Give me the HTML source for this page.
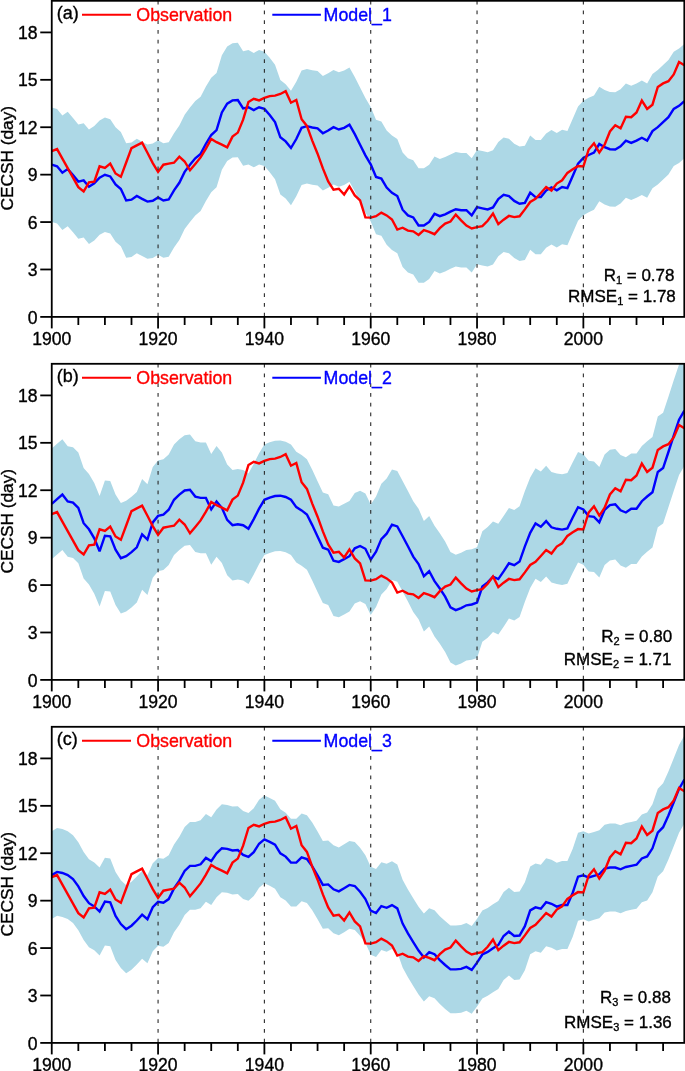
<!DOCTYPE html>
<html><head><meta charset="utf-8"><style>
html,body{margin:0;padding:0;background:#fff;}
body{width:685px;height:1071px;overflow:hidden;}
svg{display:block;will-change:transform;}
text{font-family:"Liberation Sans", sans-serif;stroke-width:0.35px;paint-order:stroke;}
</style></head><body>
<svg width="685" height="1071" viewBox="0 0 685 1071">
<rect width="685" height="1071" fill="#fff"/>
<clipPath id="clip0"><rect x="51.75" y="0.8" width="632.55" height="316.1"/></clipPath>
<g clip-path="url(#clip0)">
<polygon points="51.75,107.49 57.07,109.09 62.38,115.49 67.7,111.79 73.01,117.89 78.33,124.39 83.65,123.19 88.96,129.49 94.28,125.99 99.59,120.39 104.91,117.59 110.23,119.19 115.54,127.29 120.86,131.89 126.18,143.29 131.49,142.49 136.81,138.79 142.12,141.69 147.44,144.39 152.76,143.59 158.07,140.29 163.39,143.29 168.7,142.29 174.02,133.19 179.34,125.59 184.65,114.69 189.97,107.49 195.28,101.09 200.6,96.69 205.92,86.59 211.23,77.79 216.55,72.89 221.87,55.29 227.18,46.49 232.5,43.19 237.81,42.79 243.13,51.29 248.45,50.09 253.76,52.89 259.08,50.09 264.39,51.69 269.71,57.79 275.03,64.79 280.34,80.09 285.66,84.19 290.97,90.79 296.29,81.79 301.61,70.59 306.92,68.99 312.24,70.29 317.56,71.09 322.87,75.99 328.19,73.29 333.5,69.99 338.82,72.29 344.14,70.59 349.45,67.39 354.77,76.89 360.08,87.49 365.4,98.09 370.72,107.09 376.03,119.79 381.35,121.39 386.66,130.39 391.98,135.59 397.3,138.89 402.61,152.49 407.93,158.19 413.24,160.19 418.56,168.29 423.88,168.29 429.19,164.69 434.51,156.59 439.83,158.99 445.14,157.09 450.46,154.39 455.77,151.99 461.09,152.99 466.41,152.99 471.72,158.19 477.04,149.89 482.35,151.09 487.67,152.19 492.99,150.19 498.3,141.89 503.62,137.59 508.93,138.79 514.25,143.69 519.57,146.49 524.88,145.69 530.2,135.39 535.52,139.89 540.83,139.89 546.15,133.39 551.46,130.09 556.78,133.09 562.1,129.79 567.41,130.89 572.73,118.69 578.04,106.39 583.36,100.79 588.68,97.79 593.99,95.39 599.31,86.79 604.62,89.99 609.94,91.99 615.26,92.29 620.57,89.19 625.89,83.39 631.2,85.69 636.52,83.39 641.84,80.59 647.15,83.39 652.47,73.89 657.79,69.99 663.1,64.99 668.42,59.99 673.73,51.69 679.05,48.59 684.37,43.89 684.37,158.31 679.05,163.01 673.73,166.11 668.42,174.41 663.1,179.41 657.79,184.41 652.47,188.31 647.15,197.81 641.84,195.01 636.52,197.81 631.2,200.11 625.89,197.81 620.57,203.61 615.26,206.71 609.94,206.41 604.62,204.41 599.31,201.21 593.99,209.81 588.68,212.21 583.36,215.21 578.04,220.81 572.73,233.11 567.41,245.31 562.1,244.21 556.78,247.51 551.46,244.51 546.15,247.81 540.83,254.31 535.52,254.31 530.2,249.81 524.88,260.11 519.57,260.91 514.25,258.11 508.93,253.21 503.62,252.01 498.3,256.31 492.99,264.61 487.67,266.61 482.35,265.51 477.04,264.31 471.72,272.61 466.41,267.41 461.09,267.41 455.77,266.41 450.46,268.81 445.14,271.51 439.83,273.41 434.51,271.01 429.19,279.11 423.88,282.71 418.56,282.71 413.24,274.61 407.93,272.61 402.61,266.91 397.3,253.31 391.98,250.01 386.66,244.81 381.35,235.81 376.03,234.21 370.72,221.51 365.4,212.51 360.08,201.91 354.77,191.31 349.45,181.81 344.14,185.01 338.82,186.71 333.5,184.41 328.19,187.71 322.87,190.41 317.56,185.51 312.24,184.71 306.92,183.41 301.61,185.01 296.29,196.21 290.97,205.21 285.66,198.61 280.34,194.51 275.03,179.21 269.71,172.21 264.39,166.11 259.08,164.51 253.76,167.31 248.45,164.51 243.13,165.71 237.81,157.21 232.5,157.61 227.18,160.91 221.87,169.71 216.55,187.31 211.23,192.21 205.92,201.01 200.6,211.11 195.28,215.51 189.97,221.91 184.65,229.11 179.34,240.01 174.02,247.61 168.7,256.71 163.39,257.71 158.07,254.71 152.76,258.01 147.44,258.81 142.12,256.11 136.81,253.21 131.49,256.91 126.18,257.71 120.86,246.31 115.54,241.71 110.23,233.61 104.91,232.01 99.59,234.81 94.28,240.41 88.96,243.91 83.65,237.61 78.33,238.81 73.01,232.31 67.7,226.21 62.38,229.91 57.07,223.51 51.75,221.91" fill="#ADD8E6"/>
<polyline points="51.75,164.7 57.07,166.3 62.38,172.7 67.7,169 73.01,175.1 78.33,181.6 83.65,180.4 88.96,186.7 94.28,183.2 99.59,177.6 104.91,174.8 110.23,176.4 115.54,184.5 120.86,189.1 126.18,200.5 131.49,199.7 136.81,196 142.12,198.9 147.44,201.6 152.76,200.8 158.07,197.5 163.39,200.5 168.7,199.5 174.02,190.4 179.34,182.8 184.65,171.9 189.97,164.7 195.28,158.3 200.6,153.9 205.92,143.8 211.23,135 216.55,130.1 221.87,112.5 227.18,103.7 232.5,100.4 237.81,100 243.13,108.5 248.45,107.3 253.76,110.1 259.08,107.3 264.39,108.9 269.71,115 275.03,122 280.34,137.3 285.66,141.4 290.97,148 296.29,139 301.61,127.8 306.92,126.2 312.24,127.5 317.56,128.3 322.87,133.2 328.19,130.5 333.5,127.2 338.82,129.5 344.14,127.8 349.45,124.6 354.77,134.1 360.08,144.7 365.4,155.3 370.72,164.3 376.03,177 381.35,178.6 386.66,187.6 391.98,192.8 397.3,196.1 402.61,209.7 407.93,215.4 413.24,217.4 418.56,225.5 423.88,225.5 429.19,221.9 434.51,213.8 439.83,216.2 445.14,214.3 450.46,211.6 455.77,209.2 461.09,210.2 466.41,210.2 471.72,215.4 477.04,207.1 482.35,208.3 487.67,209.4 492.99,207.4 498.3,199.1 503.62,194.8 508.93,196 514.25,200.9 519.57,203.7 524.88,202.9 530.2,192.6 535.52,197.1 540.83,197.1 546.15,190.6 551.46,187.3 556.78,190.3 562.1,187 567.41,188.1 572.73,175.9 578.04,163.6 583.36,158 588.68,155 593.99,152.6 599.31,144 604.62,147.2 609.94,149.2 615.26,149.5 620.57,146.4 625.89,140.6 631.2,142.9 636.52,140.6 641.84,137.8 647.15,140.6 652.47,131.1 657.79,127.2 663.1,122.2 668.42,117.2 673.73,108.9 679.05,105.8 684.37,101.1" fill="none" stroke="#00f" stroke-width="2.4" stroke-linejoin="miter" stroke-miterlimit="2.5"/>
<polyline points="51.75,151.1 57.07,149.1 62.38,158.6 67.7,168.2 73.01,177.7 78.33,187.2 83.65,191.5 88.96,182.4 94.28,181.6 99.59,166.3 104.91,167.9 110.23,163.6 115.54,173.5 120.86,176.8 126.18,162.5 131.49,148.2 136.81,145.4 142.12,142.7 147.44,152.7 152.76,163.1 158.07,171.9 163.39,164.7 168.7,163.6 174.02,162.7 179.34,156.6 184.65,161.5 189.97,170.3 195.28,163.9 200.6,157.4 205.92,148.6 211.23,139 216.55,142.2 221.87,144.6 227.18,147.3 232.5,136.6 237.81,132.6 243.13,119.7 248.45,102 253.76,98.8 259.08,100.4 264.39,97.9 269.71,96.1 275.03,95.6 280.34,94 285.66,91.2 290.97,102.7 296.29,100 301.61,119.3 306.92,125.9 312.24,140.6 317.56,153.7 322.87,168.4 328.19,181.5 333.5,189.6 338.82,188.8 344.14,194.5 349.45,186.4 354.77,195.4 360.08,200.3 365.4,217.4 370.72,217.6 376.03,216.2 381.35,212.6 386.66,215.4 391.98,219.5 397.3,229.6 402.61,227.7 407.93,230.6 413.24,231.3 418.56,235 423.88,230.1 429.19,231.8 434.51,234.2 439.83,228.2 445.14,223.6 450.46,221.5 455.77,214.6 461.09,220.3 466.41,225.5 471.72,228.5 477.04,227.1 482.35,226.2 487.67,220.8 492.99,213.5 498.3,224.1 503.62,219.7 508.93,215.9 514.25,217.1 519.57,216.3 524.88,209.4 530.2,202 535.52,198.8 540.83,193 546.15,187 551.46,190.6 556.78,183.6 562.1,180.3 567.41,172.9 572.73,169.3 578.04,166.1 583.36,166.5 588.68,149.5 593.99,143.3 599.31,152.6 604.62,144.8 609.94,131.5 615.26,125.3 620.57,128.4 625.89,116.7 631.2,117.2 636.52,112.5 641.84,100.6 647.15,108.9 652.47,104.7 657.79,87 663.1,83.4 668.42,81.2 673.73,74.5 679.05,62 684.37,65.2" fill="none" stroke="#f00" stroke-width="2.4" stroke-linejoin="miter" stroke-miterlimit="2.5"/>
</g>
<line x1="158.07" y1="0.8" x2="158.07" y2="316.9" stroke="#2a2a2a" stroke-width="1.1" stroke-dasharray="3.6 6.15"/>
<line x1="264.39" y1="0.8" x2="264.39" y2="316.9" stroke="#2a2a2a" stroke-width="1.1" stroke-dasharray="3.6 6.15"/>
<line x1="370.72" y1="0.8" x2="370.72" y2="316.9" stroke="#2a2a2a" stroke-width="1.1" stroke-dasharray="3.6 6.15"/>
<line x1="477.04" y1="0.8" x2="477.04" y2="316.9" stroke="#2a2a2a" stroke-width="1.1" stroke-dasharray="3.6 6.15"/>
<line x1="583.36" y1="0.8" x2="583.36" y2="316.9" stroke="#2a2a2a" stroke-width="1.1" stroke-dasharray="3.6 6.15"/>
<rect x="51.75" y="0.8" width="632.55" height="316.1" fill="none" stroke="#000" stroke-width="1.8"/>
<line x1="40.25" y1="316.9" x2="51.75" y2="316.9" stroke="#000" stroke-width="1.8"/>
<text x="37.6" y="323.5" font-size="17.6" text-anchor="end" stroke="#000">0</text>
<line x1="40.25" y1="269.48" x2="51.75" y2="269.48" stroke="#000" stroke-width="1.8"/>
<text x="37.6" y="276.08" font-size="17.6" text-anchor="end" stroke="#000">3</text>
<line x1="40.25" y1="222.07" x2="51.75" y2="222.07" stroke="#000" stroke-width="1.8"/>
<text x="37.6" y="228.67" font-size="17.6" text-anchor="end" stroke="#000">6</text>
<line x1="40.25" y1="174.65" x2="51.75" y2="174.65" stroke="#000" stroke-width="1.8"/>
<text x="37.6" y="181.25" font-size="17.6" text-anchor="end" stroke="#000">9</text>
<line x1="40.25" y1="127.24" x2="51.75" y2="127.24" stroke="#000" stroke-width="1.8"/>
<text x="37.6" y="133.84" font-size="17.6" text-anchor="end" stroke="#000">12</text>
<line x1="40.25" y1="79.82" x2="51.75" y2="79.82" stroke="#000" stroke-width="1.8"/>
<text x="37.6" y="86.42" font-size="17.6" text-anchor="end" stroke="#000">15</text>
<line x1="40.25" y1="32.41" x2="51.75" y2="32.41" stroke="#000" stroke-width="1.8"/>
<text x="37.6" y="39.01" font-size="17.6" text-anchor="end" stroke="#000">18</text>
<line x1="51.75" y1="316.9" x2="51.75" y2="328.4" stroke="#000" stroke-width="1.8"/>
<text x="51.75" y="345.1" font-size="17.6" text-anchor="middle" stroke="#000">1900</text>
<line x1="78.33" y1="316.9" x2="78.33" y2="325" stroke="#000" stroke-width="1.8"/>
<line x1="104.91" y1="316.9" x2="104.91" y2="325" stroke="#000" stroke-width="1.8"/>
<line x1="131.49" y1="316.9" x2="131.49" y2="325" stroke="#000" stroke-width="1.8"/>
<line x1="158.07" y1="316.9" x2="158.07" y2="328.4" stroke="#000" stroke-width="1.8"/>
<text x="158.07" y="345.1" font-size="17.6" text-anchor="middle" stroke="#000">1920</text>
<line x1="184.65" y1="316.9" x2="184.65" y2="325" stroke="#000" stroke-width="1.8"/>
<line x1="211.23" y1="316.9" x2="211.23" y2="325" stroke="#000" stroke-width="1.8"/>
<line x1="237.81" y1="316.9" x2="237.81" y2="325" stroke="#000" stroke-width="1.8"/>
<line x1="264.39" y1="316.9" x2="264.39" y2="328.4" stroke="#000" stroke-width="1.8"/>
<text x="264.39" y="345.1" font-size="17.6" text-anchor="middle" stroke="#000">1940</text>
<line x1="290.97" y1="316.9" x2="290.97" y2="325" stroke="#000" stroke-width="1.8"/>
<line x1="317.56" y1="316.9" x2="317.56" y2="325" stroke="#000" stroke-width="1.8"/>
<line x1="344.14" y1="316.9" x2="344.14" y2="325" stroke="#000" stroke-width="1.8"/>
<line x1="370.72" y1="316.9" x2="370.72" y2="328.4" stroke="#000" stroke-width="1.8"/>
<text x="370.72" y="345.1" font-size="17.6" text-anchor="middle" stroke="#000">1960</text>
<line x1="397.3" y1="316.9" x2="397.3" y2="325" stroke="#000" stroke-width="1.8"/>
<line x1="423.88" y1="316.9" x2="423.88" y2="325" stroke="#000" stroke-width="1.8"/>
<line x1="450.46" y1="316.9" x2="450.46" y2="325" stroke="#000" stroke-width="1.8"/>
<line x1="477.04" y1="316.9" x2="477.04" y2="328.4" stroke="#000" stroke-width="1.8"/>
<text x="477.04" y="345.1" font-size="17.6" text-anchor="middle" stroke="#000">1980</text>
<line x1="503.62" y1="316.9" x2="503.62" y2="325" stroke="#000" stroke-width="1.8"/>
<line x1="530.2" y1="316.9" x2="530.2" y2="325" stroke="#000" stroke-width="1.8"/>
<line x1="556.78" y1="316.9" x2="556.78" y2="325" stroke="#000" stroke-width="1.8"/>
<line x1="583.36" y1="316.9" x2="583.36" y2="328.4" stroke="#000" stroke-width="1.8"/>
<text x="583.36" y="345.1" font-size="17.6" text-anchor="middle" stroke="#000">2000</text>
<line x1="609.94" y1="316.9" x2="609.94" y2="325" stroke="#000" stroke-width="1.8"/>
<line x1="636.52" y1="316.9" x2="636.52" y2="325" stroke="#000" stroke-width="1.8"/>
<line x1="663.1" y1="316.9" x2="663.1" y2="325" stroke="#000" stroke-width="1.8"/>
<text x="56.7" y="19.1" font-size="18" stroke="#000">(a)</text>
<line x1="82" y1="14.8" x2="131" y2="14.8" stroke="#f00" stroke-width="2.0"/>
<text x="136.3" y="21" font-size="17.8" fill="#f00" stroke="#f00">Observation</text>
<line x1="272.3" y1="14.8" x2="320.9" y2="14.8" stroke="#00f" stroke-width="2.0"/>
<text x="323.6" y="21" font-size="17.8" fill="#00f" stroke="#00f">Model_1</text>
<text x="674.5" y="281.1" font-size="17.0" text-anchor="end" stroke="#000">R<tspan font-size="11" dy="3">1</tspan><tspan dy="-3"> = 0.78</tspan></text>
<text x="675.8" y="302.3" font-size="17.0" text-anchor="end" stroke="#000">RMSE<tspan font-size="11" dy="3">1</tspan><tspan dy="-3"> = 1.78</tspan></text>
<text transform="translate(12.9,158.25) rotate(-90)" font-size="17.3" text-anchor="middle" stroke="#000">CECSH (day)</text>
<clipPath id="clip1"><rect x="51.75" y="363.8" width="632.55" height="316.1"/></clipPath>
<g clip-path="url(#clip1)">
<polygon points="51.75,448.58 57.07,443.78 62.38,439.28 67.7,446.18 73.01,447.28 78.33,452.58 83.65,467.88 88.96,473.98 94.28,483.08 99.59,495.98 104.91,480.38 110.23,480.98 115.54,494.38 120.86,502.88 126.18,500.78 131.49,496.78 136.81,491.98 142.12,479.08 147.44,484.28 152.76,467.08 158.07,460.58 163.39,459.28 168.7,454.38 174.02,444.48 179.34,439.28 184.65,435.18 189.97,434.48 195.28,441.28 200.6,442.58 205.92,442.58 211.23,454.08 216.55,446.08 221.87,452.48 227.18,464.58 232.5,469.88 237.81,468.88 243.13,469.88 248.45,473.38 253.76,463.78 259.08,453.28 264.39,444.48 269.71,442.28 275.03,440.68 280.34,440.38 285.66,441.68 290.97,444.48 296.29,451.78 301.61,455.08 306.92,459.18 312.24,469.78 317.56,481.28 322.87,492.38 328.19,494.28 333.5,505.48 338.82,506.58 344.14,503.78 349.45,500.88 354.77,492.98 360.08,490.68 365.4,493.48 370.72,504.38 376.03,496.38 381.35,483.78 386.66,478.38 391.98,469.38 397.3,471.08 402.61,480.88 407.93,490.98 413.24,501.28 418.56,508.68 423.88,520.88 429.19,515.98 434.51,525.78 439.83,533.18 445.14,541.38 450.46,551.98 455.77,554.78 461.09,552.78 466.41,549.98 471.72,549.18 477.04,547.28 482.35,531.18 487.67,527.08 492.99,521.38 498.3,523.78 503.62,516.08 508.93,507.98 514.25,509.88 519.57,506.28 524.88,491.08 530.2,477.48 535.52,468.18 540.83,471.48 546.15,465.78 551.46,471.98 556.78,473.48 562.1,474.28 567.41,473.08 572.73,462.18 578.04,451.88 583.36,454.18 588.68,460.78 593.99,461.48 599.31,466.98 604.62,454.48 609.94,449.78 615.26,448.98 620.57,454.98 625.89,457.18 631.2,453.38 636.52,453.38 641.84,445.88 647.15,441.18 652.47,436.88 657.79,416.58 663.1,412.78 668.42,396.68 673.73,380.28 679.05,364.38 684.37,355.28 684.37,465.92 679.05,475.02 673.73,490.92 668.42,507.32 663.1,523.42 657.79,527.22 652.47,547.52 647.15,551.82 641.84,556.52 636.52,564.02 631.2,564.02 625.89,567.82 620.57,565.62 615.26,559.62 609.94,560.42 604.62,565.12 599.31,577.62 593.99,572.12 588.68,571.42 583.36,564.82 578.04,562.52 572.73,572.82 567.41,583.72 562.1,584.92 556.78,584.12 551.46,582.62 546.15,576.42 540.83,582.12 535.52,578.82 530.2,588.12 524.88,601.72 519.57,616.92 514.25,620.52 508.93,618.62 503.62,626.72 498.3,634.42 492.99,632.02 487.67,637.72 482.35,641.82 477.04,657.92 471.72,659.82 466.41,660.62 461.09,663.42 455.77,665.42 450.46,662.62 445.14,652.02 439.83,643.82 434.51,636.42 429.19,626.62 423.88,631.52 418.56,619.32 413.24,611.92 407.93,601.62 402.61,591.52 397.3,581.72 391.98,580.02 386.66,589.02 381.35,594.42 376.03,607.02 370.72,615.02 365.4,604.12 360.08,601.32 354.77,603.62 349.45,611.52 344.14,614.42 338.82,617.22 333.5,616.12 328.19,604.92 322.87,603.02 317.56,591.92 312.24,580.42 306.92,569.82 301.61,565.72 296.29,562.42 290.97,555.12 285.66,552.32 280.34,551.02 275.03,551.32 269.71,552.92 264.39,555.12 259.08,563.92 253.76,574.42 248.45,584.02 243.13,580.52 237.81,579.52 232.5,580.52 227.18,575.22 221.87,563.12 216.55,556.72 211.23,564.72 205.92,553.22 200.6,553.22 195.28,551.92 189.97,545.12 184.65,545.82 179.34,549.92 174.02,555.12 168.7,565.02 163.39,569.92 158.07,571.22 152.76,577.72 147.44,594.92 142.12,589.72 136.81,602.62 131.49,607.42 126.18,611.42 120.86,613.52 115.54,605.02 110.23,591.62 104.91,591.02 99.59,606.62 94.28,593.72 88.96,584.62 83.65,578.52 78.33,563.22 73.01,557.92 67.7,556.82 62.38,549.92 57.07,554.42 51.75,559.22" fill="#ADD8E6"/>
<polyline points="51.75,503.9 57.07,499.1 62.38,494.6 67.7,501.5 73.01,502.6 78.33,507.9 83.65,523.2 88.96,529.3 94.28,538.4 99.59,551.3 104.91,535.7 110.23,536.3 115.54,549.7 120.86,558.2 126.18,556.1 131.49,552.1 136.81,547.3 142.12,534.4 147.44,539.6 152.76,522.4 158.07,515.9 163.39,514.6 168.7,509.7 174.02,499.8 179.34,494.6 184.65,490.5 189.97,489.8 195.28,496.6 200.6,497.9 205.92,497.9 211.23,509.4 216.55,501.4 221.87,507.8 227.18,519.9 232.5,525.2 237.81,524.2 243.13,525.2 248.45,528.7 253.76,519.1 259.08,508.6 264.39,499.8 269.71,497.6 275.03,496 280.34,495.7 285.66,497 290.97,499.8 296.29,507.1 301.61,510.4 306.92,514.5 312.24,525.1 317.56,536.6 322.87,547.7 328.19,549.6 333.5,560.8 338.82,561.9 344.14,559.1 349.45,556.2 354.77,548.3 360.08,546 365.4,548.8 370.72,559.7 376.03,551.7 381.35,539.1 386.66,533.7 391.98,524.7 397.3,526.4 402.61,536.2 407.93,546.3 413.24,556.6 418.56,564 423.88,576.2 429.19,571.3 434.51,581.1 439.83,588.5 445.14,596.7 450.46,607.3 455.77,610.1 461.09,608.1 466.41,605.3 471.72,604.5 477.04,602.6 482.35,586.5 487.67,582.4 492.99,576.7 498.3,579.1 503.62,571.4 508.93,563.3 514.25,565.2 519.57,561.6 524.88,546.4 530.2,532.8 535.52,523.5 540.83,526.8 546.15,521.1 551.46,527.3 556.78,528.8 562.1,529.6 567.41,528.4 572.73,517.5 578.04,507.2 583.36,509.5 588.68,516.1 593.99,516.8 599.31,522.3 604.62,509.8 609.94,505.1 615.26,504.3 620.57,510.3 625.89,512.5 631.2,508.7 636.52,508.7 641.84,501.2 647.15,496.5 652.47,492.2 657.79,471.9 663.1,468.1 668.42,452 673.73,435.6 679.05,419.7 684.37,410.6" fill="none" stroke="#00f" stroke-width="2.4" stroke-linejoin="miter" stroke-miterlimit="2.5"/>
<polyline points="51.75,514.1 57.07,512.1 62.38,521.6 67.7,531.2 73.01,540.7 78.33,550.2 83.65,554.5 88.96,545.4 94.28,544.6 99.59,529.3 104.91,530.9 110.23,526.6 115.54,536.5 120.86,539.8 126.18,525.5 131.49,511.2 136.81,508.4 142.12,505.7 147.44,515.7 152.76,526.1 158.07,534.9 163.39,527.7 168.7,526.6 174.02,525.7 179.34,519.6 184.65,524.5 189.97,533.3 195.28,526.9 200.6,520.4 205.92,511.6 211.23,502 216.55,505.2 221.87,507.6 227.18,510.3 232.5,499.6 237.81,495.6 243.13,482.7 248.45,465 253.76,461.8 259.08,463.4 264.39,460.9 269.71,459.1 275.03,458.6 280.34,457 285.66,454.2 290.97,465.7 296.29,463 301.61,482.3 306.92,488.9 312.24,503.6 317.56,516.7 322.87,531.4 328.19,544.5 333.5,552.6 338.82,551.8 344.14,557.5 349.45,549.4 354.77,558.4 360.08,563.3 365.4,580.4 370.72,580.6 376.03,579.2 381.35,575.6 386.66,578.4 391.98,582.5 397.3,592.6 402.61,590.7 407.93,593.6 413.24,594.3 418.56,598 423.88,593.1 429.19,594.8 434.51,597.2 439.83,591.2 445.14,586.6 450.46,584.5 455.77,577.6 461.09,583.3 466.41,588.5 471.72,591.5 477.04,590.1 482.35,589.2 487.67,583.8 492.99,576.5 498.3,587.1 503.62,582.7 508.93,578.9 514.25,580.1 519.57,579.3 524.88,572.4 530.2,565 535.52,561.8 540.83,556 546.15,550 551.46,553.6 556.78,546.6 562.1,543.3 567.41,535.9 572.73,532.3 578.04,529.1 583.36,529.5 588.68,512.5 593.99,506.3 599.31,515.6 604.62,507.8 609.94,494.5 615.26,488.3 620.57,491.4 625.89,479.7 631.2,480.2 636.52,475.5 641.84,463.6 647.15,471.9 652.47,467.7 657.79,450 663.1,446.4 668.42,444.2 673.73,437.5 679.05,425 684.37,428.2" fill="none" stroke="#f00" stroke-width="2.4" stroke-linejoin="miter" stroke-miterlimit="2.5"/>
</g>
<line x1="158.07" y1="363.8" x2="158.07" y2="679.9" stroke="#2a2a2a" stroke-width="1.1" stroke-dasharray="3.6 6.15"/>
<line x1="264.39" y1="363.8" x2="264.39" y2="679.9" stroke="#2a2a2a" stroke-width="1.1" stroke-dasharray="3.6 6.15"/>
<line x1="370.72" y1="363.8" x2="370.72" y2="679.9" stroke="#2a2a2a" stroke-width="1.1" stroke-dasharray="3.6 6.15"/>
<line x1="477.04" y1="363.8" x2="477.04" y2="679.9" stroke="#2a2a2a" stroke-width="1.1" stroke-dasharray="3.6 6.15"/>
<line x1="583.36" y1="363.8" x2="583.36" y2="679.9" stroke="#2a2a2a" stroke-width="1.1" stroke-dasharray="3.6 6.15"/>
<rect x="51.75" y="363.8" width="632.55" height="316.1" fill="none" stroke="#000" stroke-width="1.8"/>
<line x1="40.25" y1="679.9" x2="51.75" y2="679.9" stroke="#000" stroke-width="1.8"/>
<text x="37.6" y="686.5" font-size="17.6" text-anchor="end" stroke="#000">0</text>
<line x1="40.25" y1="632.49" x2="51.75" y2="632.49" stroke="#000" stroke-width="1.8"/>
<text x="37.6" y="639.09" font-size="17.6" text-anchor="end" stroke="#000">3</text>
<line x1="40.25" y1="585.07" x2="51.75" y2="585.07" stroke="#000" stroke-width="1.8"/>
<text x="37.6" y="591.67" font-size="17.6" text-anchor="end" stroke="#000">6</text>
<line x1="40.25" y1="537.65" x2="51.75" y2="537.65" stroke="#000" stroke-width="1.8"/>
<text x="37.6" y="544.25" font-size="17.6" text-anchor="end" stroke="#000">9</text>
<line x1="40.25" y1="490.24" x2="51.75" y2="490.24" stroke="#000" stroke-width="1.8"/>
<text x="37.6" y="496.84" font-size="17.6" text-anchor="end" stroke="#000">12</text>
<line x1="40.25" y1="442.82" x2="51.75" y2="442.82" stroke="#000" stroke-width="1.8"/>
<text x="37.6" y="449.43" font-size="17.6" text-anchor="end" stroke="#000">15</text>
<line x1="40.25" y1="395.41" x2="51.75" y2="395.41" stroke="#000" stroke-width="1.8"/>
<text x="37.6" y="402.01" font-size="17.6" text-anchor="end" stroke="#000">18</text>
<line x1="51.75" y1="679.9" x2="51.75" y2="691.4" stroke="#000" stroke-width="1.8"/>
<text x="51.75" y="708.1" font-size="17.6" text-anchor="middle" stroke="#000">1900</text>
<line x1="78.33" y1="679.9" x2="78.33" y2="688" stroke="#000" stroke-width="1.8"/>
<line x1="104.91" y1="679.9" x2="104.91" y2="688" stroke="#000" stroke-width="1.8"/>
<line x1="131.49" y1="679.9" x2="131.49" y2="688" stroke="#000" stroke-width="1.8"/>
<line x1="158.07" y1="679.9" x2="158.07" y2="691.4" stroke="#000" stroke-width="1.8"/>
<text x="158.07" y="708.1" font-size="17.6" text-anchor="middle" stroke="#000">1920</text>
<line x1="184.65" y1="679.9" x2="184.65" y2="688" stroke="#000" stroke-width="1.8"/>
<line x1="211.23" y1="679.9" x2="211.23" y2="688" stroke="#000" stroke-width="1.8"/>
<line x1="237.81" y1="679.9" x2="237.81" y2="688" stroke="#000" stroke-width="1.8"/>
<line x1="264.39" y1="679.9" x2="264.39" y2="691.4" stroke="#000" stroke-width="1.8"/>
<text x="264.39" y="708.1" font-size="17.6" text-anchor="middle" stroke="#000">1940</text>
<line x1="290.97" y1="679.9" x2="290.97" y2="688" stroke="#000" stroke-width="1.8"/>
<line x1="317.56" y1="679.9" x2="317.56" y2="688" stroke="#000" stroke-width="1.8"/>
<line x1="344.14" y1="679.9" x2="344.14" y2="688" stroke="#000" stroke-width="1.8"/>
<line x1="370.72" y1="679.9" x2="370.72" y2="691.4" stroke="#000" stroke-width="1.8"/>
<text x="370.72" y="708.1" font-size="17.6" text-anchor="middle" stroke="#000">1960</text>
<line x1="397.3" y1="679.9" x2="397.3" y2="688" stroke="#000" stroke-width="1.8"/>
<line x1="423.88" y1="679.9" x2="423.88" y2="688" stroke="#000" stroke-width="1.8"/>
<line x1="450.46" y1="679.9" x2="450.46" y2="688" stroke="#000" stroke-width="1.8"/>
<line x1="477.04" y1="679.9" x2="477.04" y2="691.4" stroke="#000" stroke-width="1.8"/>
<text x="477.04" y="708.1" font-size="17.6" text-anchor="middle" stroke="#000">1980</text>
<line x1="503.62" y1="679.9" x2="503.62" y2="688" stroke="#000" stroke-width="1.8"/>
<line x1="530.2" y1="679.9" x2="530.2" y2="688" stroke="#000" stroke-width="1.8"/>
<line x1="556.78" y1="679.9" x2="556.78" y2="688" stroke="#000" stroke-width="1.8"/>
<line x1="583.36" y1="679.9" x2="583.36" y2="691.4" stroke="#000" stroke-width="1.8"/>
<text x="583.36" y="708.1" font-size="17.6" text-anchor="middle" stroke="#000">2000</text>
<line x1="609.94" y1="679.9" x2="609.94" y2="688" stroke="#000" stroke-width="1.8"/>
<line x1="636.52" y1="679.9" x2="636.52" y2="688" stroke="#000" stroke-width="1.8"/>
<line x1="663.1" y1="679.9" x2="663.1" y2="688" stroke="#000" stroke-width="1.8"/>
<text x="56.7" y="382.1" font-size="18" stroke="#000">(b)</text>
<line x1="82" y1="377.8" x2="131" y2="377.8" stroke="#f00" stroke-width="2.0"/>
<text x="136.3" y="384" font-size="17.8" fill="#f00" stroke="#f00">Observation</text>
<line x1="272.3" y1="377.8" x2="320.9" y2="377.8" stroke="#00f" stroke-width="2.0"/>
<text x="323.6" y="384" font-size="17.8" fill="#00f" stroke="#00f">Model_2</text>
<text x="672.2" y="642.3" font-size="17.0" text-anchor="end" stroke="#000">R<tspan font-size="11" dy="3">2</tspan><tspan dy="-3"> = 0.80</tspan></text>
<text x="671.5" y="664.7" font-size="17.0" text-anchor="end" stroke="#000">RMSE<tspan font-size="11" dy="3">2</tspan><tspan dy="-3"> = 1.71</tspan></text>
<text transform="translate(12.9,521.25) rotate(-90)" font-size="17.3" text-anchor="middle" stroke="#000">CECSH (day)</text>
<clipPath id="clip2"><rect x="51.75" y="726.8" width="632.55" height="316.1"/></clipPath>
<g clip-path="url(#clip2)">
<polygon points="51.75,831.16 57.07,827.96 62.38,829.06 67.7,831.16 73.01,835.16 78.33,842.36 83.65,852.06 88.96,859.26 94.28,862.46 99.59,867.56 104.91,857.66 110.23,858.46 115.54,872.06 120.86,880.16 126.18,885.26 131.49,881.76 136.81,876.56 142.12,870.76 147.44,875.26 152.76,863.26 158.07,857.96 163.39,858.86 168.7,855.16 174.02,844.46 179.34,836.76 184.65,827.06 189.97,821.96 195.28,821.96 200.6,820.36 205.92,813.96 211.23,817.16 216.55,809.46 221.87,804.26 227.18,804.96 232.5,806.56 237.81,806.16 243.13,811.06 248.45,812.96 253.76,808.16 259.08,799.76 264.39,795.46 269.71,797.96 275.03,800.76 280.34,809.36 285.66,812.66 290.97,818.66 296.29,818.66 301.61,813.46 306.92,815.16 312.24,822.46 317.56,831.46 322.87,840.96 328.19,840.46 333.5,845.36 338.82,847.46 344.14,844.26 349.45,840.96 354.77,842.06 360.08,847.86 365.4,855.16 370.72,866.76 376.03,869.06 381.35,862.16 386.66,863.86 391.98,861.16 397.3,864.46 402.61,879.66 407.93,889.46 413.24,898.16 418.56,906.66 423.88,913.56 429.19,908.26 434.51,910.26 439.83,916.16 445.14,921.06 450.46,925.46 455.77,925.46 461.09,924.96 466.41,922.96 471.72,925.96 477.04,918.66 482.35,910.56 487.67,907.96 492.99,904.36 498.3,901.06 503.62,892.06 508.93,887.66 514.25,892.06 519.57,891.56 524.88,882.26 530.2,866.46 535.52,863.46 540.83,864.76 546.15,858.26 551.46,859.86 556.78,862.66 562.1,861.06 567.41,861.06 572.73,848.76 578.04,832.76 583.36,831.36 588.68,833.56 593.99,831.96 599.31,830.36 604.62,824.66 609.94,823.56 615.26,823.56 620.57,825.36 625.89,823.06 631.2,821.96 636.52,820.76 641.84,814.46 647.15,812.56 652.47,804.36 657.79,788.66 663.1,783.26 668.42,771.56 673.73,758.26 679.05,744.96 684.37,735.56 684.37,823.44 679.05,832.84 673.73,846.14 668.42,859.44 663.1,871.14 657.79,876.54 652.47,892.24 647.15,900.44 641.84,902.34 636.52,908.64 631.2,909.84 625.89,910.94 620.57,913.24 615.26,911.44 609.94,911.44 604.62,912.54 599.31,918.24 593.99,919.84 588.68,921.44 583.36,919.24 578.04,920.64 572.73,936.64 567.41,948.94 562.1,948.94 556.78,950.54 551.46,947.74 546.15,946.14 540.83,952.64 535.52,951.34 530.2,954.34 524.88,970.14 519.57,979.44 514.25,979.94 508.93,975.54 503.62,979.94 498.3,988.94 492.99,992.24 487.67,995.84 482.35,998.44 477.04,1006.54 471.72,1013.84 466.41,1010.84 461.09,1012.84 455.77,1013.34 450.46,1013.34 445.14,1008.94 439.83,1004.04 434.51,998.14 429.19,996.14 423.88,1001.44 418.56,994.54 413.24,986.04 407.93,977.34 402.61,967.54 397.3,952.34 391.98,949.04 386.66,951.74 381.35,950.04 376.03,956.94 370.72,954.64 365.4,943.04 360.08,935.74 354.77,929.94 349.45,928.84 344.14,932.14 338.82,935.34 333.5,933.24 328.19,928.34 322.87,928.84 317.56,919.34 312.24,910.34 306.92,903.04 301.61,901.34 296.29,906.54 290.97,906.54 285.66,900.54 280.34,897.24 275.03,888.64 269.71,885.84 264.39,883.34 259.08,887.64 253.76,896.04 248.45,900.84 243.13,898.94 237.81,894.04 232.5,894.44 227.18,892.84 221.87,892.14 216.55,897.34 211.23,905.04 205.92,901.84 200.6,908.24 195.28,909.84 189.97,909.84 184.65,914.94 179.34,924.64 174.02,932.34 168.7,943.04 163.39,946.74 158.07,945.84 152.76,951.14 147.44,963.14 142.12,958.64 136.81,964.44 131.49,969.64 126.18,973.14 120.86,968.04 115.54,959.94 110.23,946.34 104.91,945.54 99.59,955.44 94.28,950.34 88.96,947.14 83.65,939.94 78.33,930.24 73.01,923.04 67.7,919.04 62.38,916.94 57.07,915.84 51.75,919.04" fill="#ADD8E6"/>
<polyline points="51.75,875.1 57.07,871.9 62.38,873 67.7,875.1 73.01,879.1 78.33,886.3 83.65,896 88.96,903.2 94.28,906.4 99.59,911.5 104.91,901.6 110.23,902.4 115.54,916 120.86,924.1 126.18,929.2 131.49,925.7 136.81,920.5 142.12,914.7 147.44,919.2 152.76,907.2 158.07,901.9 163.39,902.8 168.7,899.1 174.02,888.4 179.34,880.7 184.65,871 189.97,865.9 195.28,865.9 200.6,864.3 205.92,857.9 211.23,861.1 216.55,853.4 221.87,848.2 227.18,848.9 232.5,850.5 237.81,850.1 243.13,855 248.45,856.9 253.76,852.1 259.08,843.7 264.39,839.4 269.71,841.9 275.03,844.7 280.34,853.3 285.66,856.6 290.97,862.6 296.29,862.6 301.61,857.4 306.92,859.1 312.24,866.4 317.56,875.4 322.87,884.9 328.19,884.4 333.5,889.3 338.82,891.4 344.14,888.2 349.45,884.9 354.77,886 360.08,891.8 365.4,899.1 370.72,910.7 376.03,913 381.35,906.1 386.66,907.8 391.98,905.1 397.3,908.4 402.61,923.6 407.93,933.4 413.24,942.1 418.56,950.6 423.88,957.5 429.19,952.2 434.51,954.2 439.83,960.1 445.14,965 450.46,969.4 455.77,969.4 461.09,968.9 466.41,966.9 471.72,969.9 477.04,962.6 482.35,954.5 487.67,951.9 492.99,948.3 498.3,945 503.62,936 508.93,931.6 514.25,936 519.57,935.5 524.88,926.2 530.2,910.4 535.52,907.4 540.83,908.7 546.15,902.2 551.46,903.8 556.78,906.6 562.1,905 567.41,905 572.73,892.7 578.04,876.7 583.36,875.3 588.68,877.5 593.99,875.9 599.31,874.3 604.62,868.6 609.94,867.5 615.26,867.5 620.57,869.3 625.89,867 631.2,865.9 636.52,864.7 641.84,858.4 647.15,856.5 652.47,848.3 657.79,832.6 663.1,827.2 668.42,815.5 673.73,802.2 679.05,788.9 684.37,779.5" fill="none" stroke="#00f" stroke-width="2.4" stroke-linejoin="miter" stroke-miterlimit="2.5"/>
<polyline points="51.75,877.1 57.07,875.1 62.38,884.6 67.7,894.2 73.01,903.7 78.33,913.2 83.65,917.5 88.96,908.4 94.28,907.6 99.59,892.3 104.91,893.9 110.23,889.6 115.54,899.5 120.86,902.8 126.18,888.5 131.49,874.2 136.81,871.4 142.12,868.7 147.44,878.7 152.76,889.1 158.07,897.9 163.39,890.7 168.7,889.6 174.02,888.7 179.34,882.6 184.65,887.5 189.97,896.3 195.28,889.9 200.6,883.4 205.92,874.6 211.23,865 216.55,868.2 221.87,870.6 227.18,873.3 232.5,862.6 237.81,858.6 243.13,845.7 248.45,828 253.76,824.8 259.08,826.4 264.39,823.9 269.71,822.1 275.03,821.6 280.34,820 285.66,817.2 290.97,828.7 296.29,826 301.61,845.3 306.92,851.9 312.24,866.6 317.56,879.7 322.87,894.4 328.19,907.5 333.5,915.6 338.82,914.8 344.14,920.5 349.45,912.4 354.77,921.4 360.08,926.3 365.4,943.4 370.72,943.6 376.03,942.2 381.35,938.6 386.66,941.4 391.98,945.5 397.3,955.6 402.61,953.7 407.93,956.6 413.24,957.3 418.56,961 423.88,956.1 429.19,957.8 434.51,960.2 439.83,954.2 445.14,949.6 450.46,947.5 455.77,940.6 461.09,946.3 466.41,951.5 471.72,954.5 477.04,953.1 482.35,952.2 487.67,946.8 492.99,939.5 498.3,950.1 503.62,945.7 508.93,941.9 514.25,943.1 519.57,942.3 524.88,935.4 530.2,928 535.52,924.8 540.83,919 546.15,913 551.46,916.6 556.78,909.6 562.1,906.3 567.41,898.9 572.73,895.3 578.04,892.1 583.36,892.5 588.68,875.5 593.99,869.3 599.31,878.6 604.62,870.8 609.94,857.5 615.26,851.3 620.57,854.4 625.89,842.7 631.2,843.2 636.52,838.5 641.84,826.6 647.15,834.9 652.47,830.7 657.79,813 663.1,809.4 668.42,807.2 673.73,800.5 679.05,788 684.37,791.2" fill="none" stroke="#f00" stroke-width="2.4" stroke-linejoin="miter" stroke-miterlimit="2.5"/>
</g>
<line x1="158.07" y1="726.8" x2="158.07" y2="1042.9" stroke="#2a2a2a" stroke-width="1.1" stroke-dasharray="3.6 6.15"/>
<line x1="264.39" y1="726.8" x2="264.39" y2="1042.9" stroke="#2a2a2a" stroke-width="1.1" stroke-dasharray="3.6 6.15"/>
<line x1="370.72" y1="726.8" x2="370.72" y2="1042.9" stroke="#2a2a2a" stroke-width="1.1" stroke-dasharray="3.6 6.15"/>
<line x1="477.04" y1="726.8" x2="477.04" y2="1042.9" stroke="#2a2a2a" stroke-width="1.1" stroke-dasharray="3.6 6.15"/>
<line x1="583.36" y1="726.8" x2="583.36" y2="1042.9" stroke="#2a2a2a" stroke-width="1.1" stroke-dasharray="3.6 6.15"/>
<rect x="51.75" y="726.8" width="632.55" height="316.1" fill="none" stroke="#000" stroke-width="1.8"/>
<line x1="40.25" y1="1042.9" x2="51.75" y2="1042.9" stroke="#000" stroke-width="1.8"/>
<text x="37.6" y="1049.5" font-size="17.6" text-anchor="end" stroke="#000">0</text>
<line x1="40.25" y1="995.49" x2="51.75" y2="995.49" stroke="#000" stroke-width="1.8"/>
<text x="37.6" y="1002.09" font-size="17.6" text-anchor="end" stroke="#000">3</text>
<line x1="40.25" y1="948.07" x2="51.75" y2="948.07" stroke="#000" stroke-width="1.8"/>
<text x="37.6" y="954.67" font-size="17.6" text-anchor="end" stroke="#000">6</text>
<line x1="40.25" y1="900.66" x2="51.75" y2="900.66" stroke="#000" stroke-width="1.8"/>
<text x="37.6" y="907.26" font-size="17.6" text-anchor="end" stroke="#000">9</text>
<line x1="40.25" y1="853.24" x2="51.75" y2="853.24" stroke="#000" stroke-width="1.8"/>
<text x="37.6" y="859.84" font-size="17.6" text-anchor="end" stroke="#000">12</text>
<line x1="40.25" y1="805.83" x2="51.75" y2="805.83" stroke="#000" stroke-width="1.8"/>
<text x="37.6" y="812.43" font-size="17.6" text-anchor="end" stroke="#000">15</text>
<line x1="40.25" y1="758.41" x2="51.75" y2="758.41" stroke="#000" stroke-width="1.8"/>
<text x="37.6" y="765.01" font-size="17.6" text-anchor="end" stroke="#000">18</text>
<line x1="51.75" y1="1042.9" x2="51.75" y2="1054.4" stroke="#000" stroke-width="1.8"/>
<text x="51.75" y="1071.1" font-size="17.6" text-anchor="middle" stroke="#000">1900</text>
<line x1="78.33" y1="1042.9" x2="78.33" y2="1051" stroke="#000" stroke-width="1.8"/>
<line x1="104.91" y1="1042.9" x2="104.91" y2="1051" stroke="#000" stroke-width="1.8"/>
<line x1="131.49" y1="1042.9" x2="131.49" y2="1051" stroke="#000" stroke-width="1.8"/>
<line x1="158.07" y1="1042.9" x2="158.07" y2="1054.4" stroke="#000" stroke-width="1.8"/>
<text x="158.07" y="1071.1" font-size="17.6" text-anchor="middle" stroke="#000">1920</text>
<line x1="184.65" y1="1042.9" x2="184.65" y2="1051" stroke="#000" stroke-width="1.8"/>
<line x1="211.23" y1="1042.9" x2="211.23" y2="1051" stroke="#000" stroke-width="1.8"/>
<line x1="237.81" y1="1042.9" x2="237.81" y2="1051" stroke="#000" stroke-width="1.8"/>
<line x1="264.39" y1="1042.9" x2="264.39" y2="1054.4" stroke="#000" stroke-width="1.8"/>
<text x="264.39" y="1071.1" font-size="17.6" text-anchor="middle" stroke="#000">1940</text>
<line x1="290.97" y1="1042.9" x2="290.97" y2="1051" stroke="#000" stroke-width="1.8"/>
<line x1="317.56" y1="1042.9" x2="317.56" y2="1051" stroke="#000" stroke-width="1.8"/>
<line x1="344.14" y1="1042.9" x2="344.14" y2="1051" stroke="#000" stroke-width="1.8"/>
<line x1="370.72" y1="1042.9" x2="370.72" y2="1054.4" stroke="#000" stroke-width="1.8"/>
<text x="370.72" y="1071.1" font-size="17.6" text-anchor="middle" stroke="#000">1960</text>
<line x1="397.3" y1="1042.9" x2="397.3" y2="1051" stroke="#000" stroke-width="1.8"/>
<line x1="423.88" y1="1042.9" x2="423.88" y2="1051" stroke="#000" stroke-width="1.8"/>
<line x1="450.46" y1="1042.9" x2="450.46" y2="1051" stroke="#000" stroke-width="1.8"/>
<line x1="477.04" y1="1042.9" x2="477.04" y2="1054.4" stroke="#000" stroke-width="1.8"/>
<text x="477.04" y="1071.1" font-size="17.6" text-anchor="middle" stroke="#000">1980</text>
<line x1="503.62" y1="1042.9" x2="503.62" y2="1051" stroke="#000" stroke-width="1.8"/>
<line x1="530.2" y1="1042.9" x2="530.2" y2="1051" stroke="#000" stroke-width="1.8"/>
<line x1="556.78" y1="1042.9" x2="556.78" y2="1051" stroke="#000" stroke-width="1.8"/>
<line x1="583.36" y1="1042.9" x2="583.36" y2="1054.4" stroke="#000" stroke-width="1.8"/>
<text x="583.36" y="1071.1" font-size="17.6" text-anchor="middle" stroke="#000">2000</text>
<line x1="609.94" y1="1042.9" x2="609.94" y2="1051" stroke="#000" stroke-width="1.8"/>
<line x1="636.52" y1="1042.9" x2="636.52" y2="1051" stroke="#000" stroke-width="1.8"/>
<line x1="663.1" y1="1042.9" x2="663.1" y2="1051" stroke="#000" stroke-width="1.8"/>
<text x="56.7" y="745.1" font-size="18" stroke="#000">(c)</text>
<line x1="82" y1="740.8" x2="131" y2="740.8" stroke="#f00" stroke-width="2.0"/>
<text x="136.3" y="747" font-size="17.8" fill="#f00" stroke="#f00">Observation</text>
<line x1="272.3" y1="740.8" x2="320.9" y2="740.8" stroke="#00f" stroke-width="2.0"/>
<text x="323.6" y="747" font-size="17.8" fill="#00f" stroke="#00f">Model_3</text>
<text x="670.9" y="1003.4" font-size="17.0" text-anchor="end" stroke="#000">R<tspan font-size="11" dy="3">3</tspan><tspan dy="-3"> = 0.88</tspan></text>
<text x="671.8" y="1027.8" font-size="17.0" text-anchor="end" stroke="#000">RMSE<tspan font-size="11" dy="3">3</tspan><tspan dy="-3"> = 1.36</tspan></text>
<text transform="translate(12.9,884.25) rotate(-90)" font-size="17.3" text-anchor="middle" stroke="#000">CECSH (day)</text>
</svg></body></html>
